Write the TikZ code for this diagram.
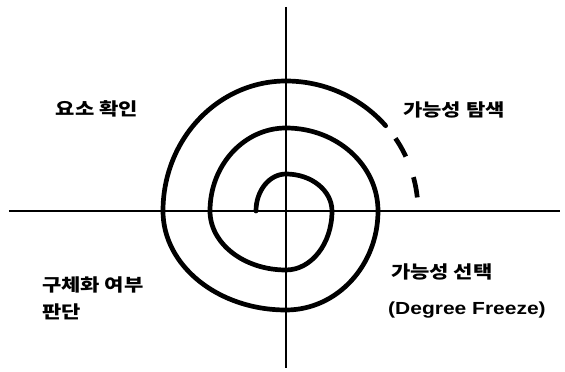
\documentclass[tikz,border=0pt]{standalone}
\usepackage{fontspec}
\newfontfamily\krfont{Noto Sans CJK KR}[FakeStretch=1.2]
\newfontfamily\latinfont{Liberation Sans}[FakeStretch=1.2]
\usetikzlibrary{positioning}

\begin{document}
\begin{tikzpicture}[
    x=1pt, y=1pt,
    axis/.style={draw, line width=1.8pt},
    spiral/.style={draw, line width=4.7pt, line cap=round},
    frozenpart/.style={spiral, line cap=butt, dash pattern=on 21pt off 22pt, dash phase=27pt},
    lbl/.style={font=\krfont\bfseries\fontsize{17.5}{27}\selectfont, inner sep=0pt, align=left},
    latin/.style={font=\latinfont\bfseries\fontsize{17.5}{20}\selectfont, inner sep=0pt}
]
    \useasboundingbox (-286,-161) rectangle (279,211);

    % Axes
    \coordinate (west) at (-277,0);
    \coordinate (east) at (274,0);
    \coordinate (north) at (0,204);
    \coordinate (south) at (0,-157);
    \draw [axis] (west) -- (east);
    \draw [axis] (north) -- (south);

    % Spiral
    \coordinate (start) at (-30,0);
    \draw [spiral] (start)
        arc[start angle=180, end angle=90, x radius=30, y radius=37]
        arc[start angle=90, end angle=0, x radius=46, y radius=37]
        arc[start angle=0, end angle=-90, x radius=46, y radius=59]
        arc[start angle=-90, end angle=-180, x radius=76, y radius=59]
        arc[start angle=180, end angle=90, x radius=76, y radius=83]
        arc[start angle=90, end angle=0, x radius=92, y radius=83]
        arc[start angle=0, end angle=-90, x radius=92, y radius=99]
        arc[start angle=-90, end angle=-180, x radius=123, y radius=99]
        arc[start angle=180, end angle=90, x radius=123, y radius=130]
        arc[start angle=90, end angle=41, x radius=132, y radius=130] coordinate (tip);
    \draw [frozenpart] (tip) arc[start angle=41, end angle=6, x radius=132, y radius=130];

    % Labels
    \node [lbl] (check) at (-189,102) {요소 확인};
    \node [lbl] (explore) at (168,101) {가능성 탐색};
    \node [lbl, anchor=west] (judge) at (-244,-87.5) {구체화 여부\\판단};
    \node [lbl, anchor=west] (select) at (105,-61) {가능성 선택};
    \node [latin, anchor=west] (freeze) at (102,-99) {(Degree Freeze)};

\end{tikzpicture}
\end{document}
